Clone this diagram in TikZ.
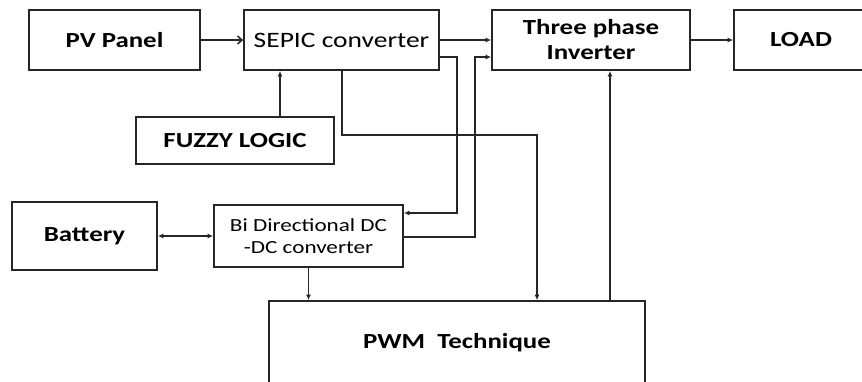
\documentclass[tikz,border=0pt]{standalone}
\usepackage{fontspec}
\setmainfont{Carlito}[FakeStretch=1.25]
\usetikzlibrary{arrows.meta}
\begin{document}
\begin{tikzpicture}[x=1pt,y=-1pt,
 box/.style={draw=black!85,line width=1.7pt,rectangle,inner sep=0pt,align=center},
 lbl/.style={font=\fontsize{21.5}{25}\selectfont\bfseries},
 wire/.style={draw=black!85,line width=1.5pt},
 arr/.style={wire,-{Latex[length=5.5pt,width=5pt]}},
 openarr/.style={wire,-{Straight Barb[length=4.5pt,width=8pt]}},
]
\useasboundingbox (0,0) rectangle (862,381);
\clip (0,0) rectangle (862,381);
\node[box,lbl,minimum width=171pt,minimum height=60pt] (pv) at (114.5,40) {PV Panel};
\node[box,font=\fontsize{22}{25}\selectfont,minimum width=195pt,minimum height=60pt] (sepic) at (341.5,40) {SEPIC converter};
\node[box,lbl,minimum width=198pt,minimum height=60pt] (three) at (591,40) {Three phase\\Inverter};
\node[box,lbl,minimum width=134pt,minimum height=60pt] (load) at (801,40) {LOAD};
\node[box,lbl,minimum width=198pt,minimum height=47pt] (fuzzy) at (235,140.5) {FUZZY LOGIC};
\node[box,lbl,minimum width=145pt,minimum height=68pt] (battery) at (84.5,236) {Battery};
\node[box,font=\fontsize{18.5}{22}\selectfont,minimum width=189pt,minimum height=62pt] (bi) at (308.5,236) {Bi Directional DC\\-DC converter};
\node[box,lbl,minimum width=376pt,minimum height=84pt] (pwm) at (457,343) {PWM\ \ Technique};
\coordinate (y57) at (0,57);
\coordinate (y213) at (0,213);
\coordinate (y237) at (0,237);
\coordinate (x280) at (280,0);
\coordinate (x342) at (342,0);
\coordinate (x537) at (537,0);
\coordinate (x610) at (610,0);
\draw[openarr] (pv) -- (sepic);
\draw[arr] (sepic) -- (three);
\draw[arr] (three) -- (load);
\draw[arr] (fuzzy.north -| x280) -- (sepic.south -| x280);
\draw[arr] (sepic.east |- y57) -- (457,57) -- (457,213) -- (bi.east |- y213);
\draw[arr] (bi.east |- y237) -- (475,237) -- (475,57) -- (three.west |- y57);
\draw[arr] (sepic.south -| x342) -- (342,135) -- (537,135) -- (pwm.north -| x537);
\draw[arr] (pwm.north -| x610) -- (three.south -| x610);
\draw[wire,{Latex[length=5.5pt,width=5pt]}-{Latex[length=5.5pt,width=5pt]}] (battery) -- (bi);
\draw[arr] (bi.south) -- (bi.south |- pwm.north);
\end{tikzpicture}
\end{document}
